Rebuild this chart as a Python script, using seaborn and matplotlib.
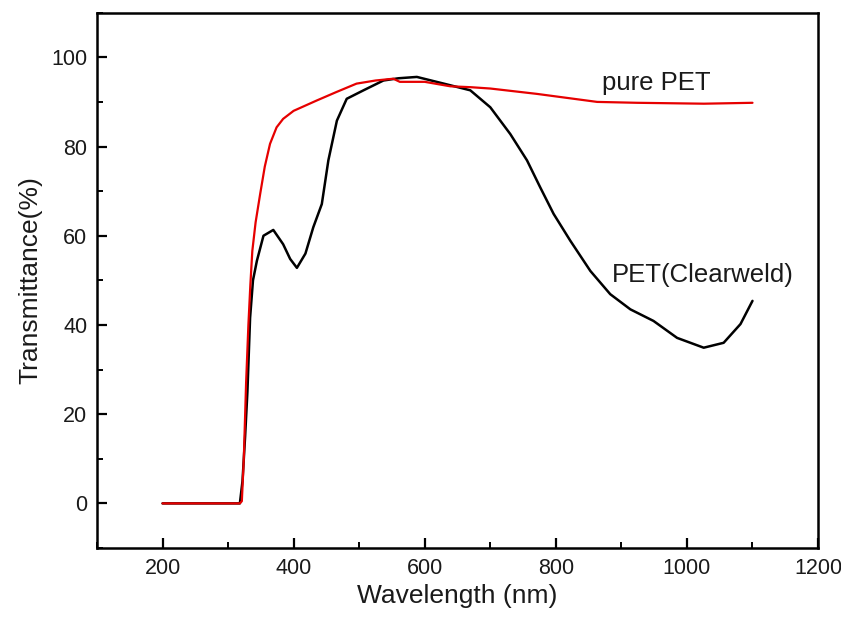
import numpy as np
import matplotlib
matplotlib.use("Agg")
import matplotlib.pyplot as plt
import seaborn as sns
from matplotlib.ticker import MultipleLocator

# pure PET (red)
pure_x = [200, 318, 321, 324, 327.5, 331, 334, 337, 342, 349, 356, 364, 374, 384, 400, 435,
          465, 496, 525, 552, 562, 600, 639, 670, 700, 771, 863, 924, 1026, 1100]
pure_y = [0, 0, 0.5, 10, 27, 40, 49, 56.6, 63, 69.4, 75.5, 80.6, 84.3, 86.2, 88, 90.3,
          92.2, 94.1, 94.8, 95.2, 94.5, 94.5, 93.5, 93.3, 93.0, 91.8, 90.0, 89.8, 89.6, 89.8]

# PET with Clearweld (black)
cw_x = [200, 318, 322, 326, 329.5, 333.6, 338, 344, 354, 369, 384, 394.7, 405, 418, 430, 443,
        453, 466, 481, 506.6, 537, 560, 588, 629, 669.5, 700, 730.5, 756, 776, 796.6, 822, 852.7,
        883, 913.7, 949, 985, 1025.6, 1056, 1081.7, 1100]
cw_y = [0, 0, 5, 15, 25, 41.6, 50, 54.4, 60, 61.3, 58.1, 54.8, 52.8, 56, 61.9, 67.1,
        76.9, 85.8, 90.7, 92.6, 94.8, 95.3, 95.6, 94.1, 92.6, 88.8, 82.8, 76.9, 70.9, 64.9, 58.9, 52.1,
        46.9, 43.5, 40.9, 37.1, 34.9, 36.0, 40.2, 45.4]

sns.set_style("ticks")
plt.rcParams['font.family'] = ['Liberation Sans', 'DejaVu Sans']
txt = '#1a1a1a'

fig, ax = plt.subplots(figsize=(8.41, 6.19), dpi=100)
fig.subplots_adjust(left=0.1153, right=0.9727, bottom=0.1147, top=0.9795)

sns.lineplot(x=cw_x, y=cw_y, color='black', linewidth=1.8, sort=False, ax=ax)
sns.lineplot(x=pure_x, y=pure_y, color='#e60000', linewidth=1.6, sort=False, ax=ax)

ax.set_xlim(100, 1200)
ax.set_ylim(-10, 110)
ax.set_xticks(np.arange(200, 1201, 200))
ax.set_yticks(np.arange(0, 101, 20))
ax.xaxis.set_minor_locator(MultipleLocator(100))
ax.yaxis.set_minor_locator(MultipleLocator(10))
ax.tick_params(which='major', direction='in', length=7, width=1.6, labelsize=15.5,
               labelcolor=txt, color='black', pad=7)
ax.tick_params(which='minor', direction='in', length=4, width=1.4, color='black')
for s in ax.spines.values():
    s.set_linewidth(1.8)
    s.set_color('black')
    s.set_visible(True)

ax.set_xlabel("Wavelength (nm)", fontsize=19, color=txt, labelpad=4)
ax.set_ylabel("Transmittance(%)", fontsize=19, color=txt, labelpad=6)

ax.text(870, 94.3, "pure PET", fontsize=18.5, color=txt, ha='left', va='center')
ax.text(886, 51.2, "PET(Clearweld)", fontsize=18.5, color=txt, ha='left', va='center')

fig.savefig("out.png", dpi=100)
